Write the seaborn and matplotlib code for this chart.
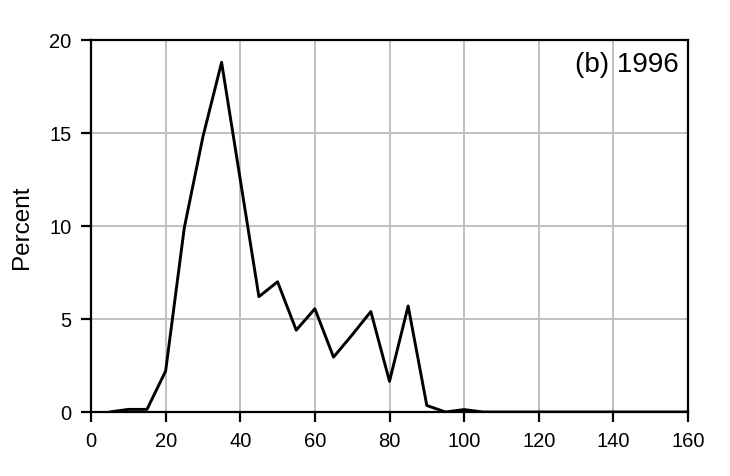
import numpy as np
import pandas as pd
import seaborn as sns
import matplotlib
matplotlib.use('Agg')
import matplotlib.pyplot as plt

# values
bins = [5, 10, 15, 20, 25, 30, 35, 40, 45, 50, 55, 60, 65, 70, 75, 80,
        85, 90, 95, 100, 105, 110, 115, 120, 125, 130, 135, 140, 145, 150, 155, 160]
percent = [0.0, 0.14, 0.14, 2.2, 9.9, 14.8, 18.8, 12.5, 6.2, 7.0, 4.4, 5.55, 2.95, 4.15, 5.4, 1.65,
           5.7, 0.35, 0.0, 0.13, 0.0, 0.0, 0.0, 0.0, 0.0, 0.0, 0.0, 0.0, 0.0, 0.0, 0.0, 0.0]
xticks = [0, 20, 40, 60, 80, 100, 120, 140, 160]
yticks = [0, 5, 10, 15, 20]

df = pd.DataFrame({'bin': bins, 'percent': percent})

sns.set_style('white')
plt.rcParams['font.family'] = ['Liberation Sans', 'DejaVu Sans']
plt.rcParams['text.color'] = 'black'
plt.rcParams['axes.labelcolor'] = 'black'

fig = plt.figure(figsize=(7.3, 4.77), dpi=100)
ax = fig.add_axes([91 / 730, 1 - 413 / 477, (688 - 91) / 730, (413 - 41) / 477])

sns.lineplot(data=df, x='bin', y='percent', ax=ax, color='black', linewidth=2.1, zorder=3)

ax.set_xlim(0, 160)
ax.set_ylim(0, 20)
ax.set_xticks(xticks)
ax.set_yticks(yticks)
ax.grid(True, color='#c0c0c0', linewidth=1.4)
ax.set_axisbelow(True)

for s in ax.spines.values():
    s.set_color('black')
    s.set_linewidth(1.6)

ax.tick_params(axis='both', direction='out', length=7, width=1.6, color='black',
               labelsize=14.5, labelcolor='black', pad=7)
ax.tick_params(axis='x', bottom=True)
ax.tick_params(axis='y', left=True)

ax.set_xlabel('')
ax.set_ylabel('Percent', fontsize=17.5, labelpad=12)
ax.text(0.984, 0.97, '(b) 1996', transform=ax.transAxes, ha='right', va='top', fontsize=20)

fig.savefig('out.png', dpi=100)
